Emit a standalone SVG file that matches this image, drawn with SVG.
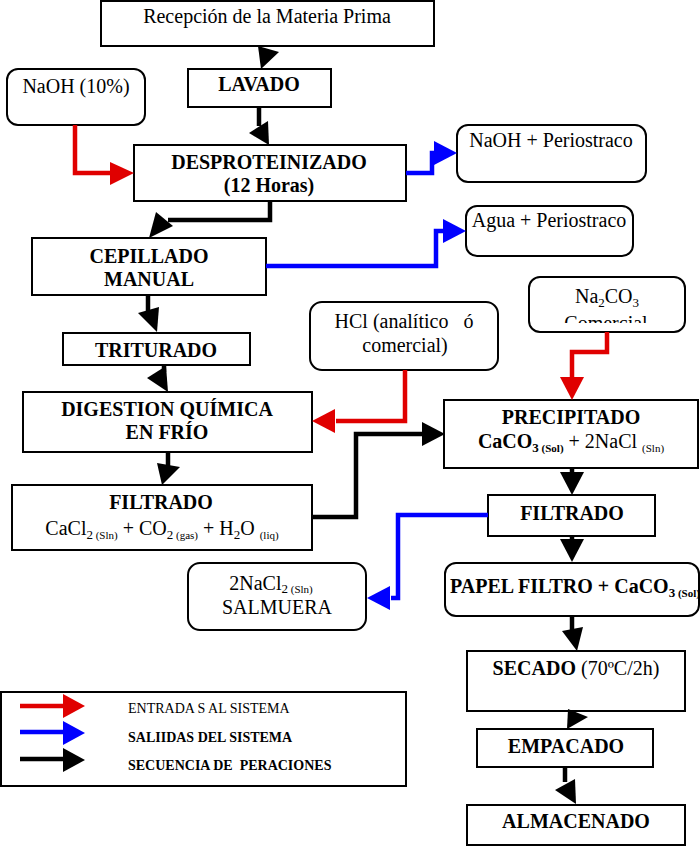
<svg xmlns="http://www.w3.org/2000/svg" width="700" height="847" viewBox="0 0 700 847">
<style>
.box{fill:#fff;stroke:#000;stroke-width:2}
.t{font-family:"Liberation Serif","Times New Roman",serif;font-size:20px;fill:#000;text-anchor:middle}
.b{font-weight:bold;font-size:20px}
.st{text-anchor:start}
.sb{font-size:13px}
.sm{font-size:11px}
.lg{font-family:"Liberation Serif","Times New Roman",serif;font-size:14px;fill:#000}
.k{fill:none;stroke:#000;stroke-width:4.5}
.kr{fill:none;stroke:#e00000;stroke-width:4.5}
.kb{fill:none;stroke:#0000ff;stroke-width:4.5}
</style>
<defs>
<clipPath id="clipNa"><rect x="529" y="277" width="157" height="46"/></clipPath>
</defs>

<g id="recepcion"><rect class="box" x="101" y="1" width="333" height="45"/>
<text class="t" x="267" y="23">Recepción de la Materia Prima</text></g>

<g id="lavado"><rect class="box" x="188" y="69" width="143" height="38"/>
<text class="t b" x="259" y="91">LAVADO</text></g>

<g id="naoh10"><rect class="box" x="7" y="69" width="138" height="56" rx="11"/>
<text class="t" x="76" y="93">NaOH (10%)</text></g>

<g id="desproteinizado"><rect class="box" x="134" y="145" width="272" height="56"/>
<text class="t b" x="269" y="169">DESPROTEINIZADO</text>
<text class="t b" x="269" y="192">(12 Horas)</text></g>

<g id="naohperiostraco"><rect class="box" x="457" y="125" width="189" height="57" rx="11"/>
<text class="t" x="551" y="147">NaOH + Periostraco</text></g>

<g id="aguaperiostraco"><rect class="box" x="466" y="206" width="167" height="50" rx="11"/>
<text class="t" x="549" y="227">Agua + Periostraco</text></g>

<g id="cepillado"><rect class="box" x="32" y="238" width="234" height="57"/>
<text class="t b" x="149" y="263">CEPILLADO</text>
<text class="t b" x="149" y="286">MANUAL</text></g>

<g id="triturado"><rect class="box" x="63" y="333" width="187" height="32"/>
<text class="t b" x="156" y="357">TRITURADO</text></g>

<g id="hcl"><rect class="box" x="310" y="302" width="188" height="68" rx="12"/>
<text class="t" x="404" y="328" xml:space="preserve">HCl (analítico   ó</text>
<text class="t" x="405" y="352">comercial)</text></g>

<g id="na2co3"><rect class="box" x="529" y="277" width="156" height="55" rx="11"/>
<text class="t" x="607" y="303">Na<tspan class="sb" dy="4">2</tspan><tspan dy="-4">CO</tspan><tspan class="sb" dy="4">3</tspan></text>
<text class="t" x="606" y="330" clip-path="url(#clipNa)">Comercial</text></g>

<g id="digestion"><rect class="box" x="23" y="392" width="289" height="60"/>
<text class="t b" x="167" y="416">DIGESTION QUÍMICA</text>
<text class="t b" x="167" y="439">EN FRÍO</text></g>

<g id="precipitado"><rect class="box" x="444" y="400" width="254" height="68"/>
<text class="t b" x="571" y="424">PRECIPITADO</text>
<text class="t" x="571" y="448"><tspan font-weight="bold">CaCO</tspan><tspan class="sb" font-weight="bold" dy="4">3</tspan><tspan class="sm" font-weight="bold"> (Sol)</tspan><tspan dy="-4"> + 2NaCl </tspan><tspan class="sm" dy="4">(Sln)</tspan></text></g>

<g id="filtrado1"><rect class="box" x="12" y="485" width="300" height="65"/>
<text class="t b" x="161" y="509">FILTRADO</text>
<text class="t" x="162" y="535">CaCl<tspan class="sb" dy="4">2</tspan><tspan class="sm"> (Sln)</tspan><tspan dy="-4"> + CO</tspan><tspan class="sb" dy="4">2</tspan><tspan class="sm"> (gas)</tspan><tspan dy="-4"> + H</tspan><tspan class="sb" dy="4">2</tspan><tspan dy="-4">O </tspan><tspan class="sm" dy="4">(liq)</tspan></text></g>

<g id="filtrado2"><rect class="box" x="488" y="495" width="167" height="41"/>
<text class="t b" x="572" y="520">FILTRADO</text></g>

<g id="salmuera"><rect class="box" x="188" y="563" width="178" height="67" rx="12"/>
<text class="t" x="271" y="590">2NaCl<tspan class="sb" dy="3">2</tspan><tspan class="sm"> (Sln)</tspan></text>
<text class="t" x="277" y="614">SALMUERA</text></g>

<g id="papelfiltro"><rect class="box" x="445" y="563" width="254" height="53" rx="11"/>
<text class="t b st" x="450" y="593">PAPEL FILTRO + CaCO<tspan class="sb" dy="4">3</tspan><tspan class="sm"> (Sol)</tspan></text></g>

<g id="secado"><rect class="box" x="467" y="651" width="218" height="60"/>
<text class="t" x="576" y="675"><tspan font-weight="bold">SECADO</tspan> (70ºC/2h)</text></g>

<g id="empacado"><rect class="box" x="477" y="729" width="176" height="38"/>
<text class="t b" x="566" y="753">EMPACADO</text></g>

<g id="almacenado"><rect class="box" x="467" y="805" width="218" height="40"/>
<text class="t b" x="576" y="828">ALMACENADO</text></g>

<g id="connectors">
<polygon points="258,46 279,52 261,69" fill="#000"/>
<path class="k" d="M259,107 V126"/>
<polygon points="249,133 268,121 269,145" fill="#000"/>
<path class="k" d="M270,201 V220 H168"/>
<polygon points="156,212 173,226 149,238" fill="#000"/>
<path class="k" d="M148,295 V311"/>
<polygon points="138,313 159,307 157,332" fill="#000"/>
<path class="k" d="M164,365 V372"/>
<polygon points="147,378 166,366 168,392" fill="#000"/>
<path class="k" d="M168,452 V466"/>
<polygon points="157,463 180,467 162,485" fill="#000"/>
<path class="k" d="M312,517 H356 V434 H424"/>
<polygon points="422,422 445,434 422,446" fill="#000"/>
<path class="k" d="M572,468 V474"/>
<polygon points="560,472 584,472 572,495" fill="#000"/>
<path class="k" d="M572,536 V540"/>
<polygon points="560,539 584,539 572,562" fill="#000"/>
<path class="k" d="M572,616 V632"/>
<polygon points="562,631 583,627 577,651" fill="#000"/>
<polygon points="568,709 588,717 567,729" fill="#000"/>
<path class="k" d="M565,767 V782"/>
<polygon points="555,790 575,779 576,804" fill="#000"/>
<path class="kr" d="M75,125 V173 H112"/>
<polygon points="110,162 134,173 110,185" fill="#e00000"/>
<path class="kr" d="M405,370 V421 H336"/>
<polygon points="335,409 312,421 335,433" fill="#e00000"/>
<path class="kr" d="M607,332 V352 H572 V378"/>
<polygon points="560,377 584,377 572,400" fill="#e00000"/>
<path class="kb" d="M406,173 H432 V153 H436"/>
<polygon points="434,141 457,153 434,165" fill="#0000ff"/>
<path class="kb" d="M266,266 H436 V231 H444"/>
<polygon points="443,219 466,231 443,243" fill="#0000ff"/>
<path class="kb" d="M488,515 H398 V598 H391"/>
<polygon points="390,586 367,598 390,610" fill="#0000ff"/>
</g>

<g id="legend">
<rect x="1" y="692" width="405" height="94" fill="#fff" stroke="#000" stroke-width="2"/>
<path class="kr" d="M20,706 H64"/>
<polygon points="63,694 85,706 63,718" fill="#e00000"/>
<path class="kb" d="M20,732 H64"/>
<polygon points="63,721 85,733 63,745" fill="#0000ff"/>
<path class="k" d="M20,759 H64"/>
<polygon points="63,748 85,760 63,772" fill="#000"/>
<text class="lg" x="128" y="713">ENTRADA S AL SISTEMA</text>
<text class="lg" x="128" y="742" font-weight="bold">SALIIDAS DEL SISTEMA</text>
<text class="lg" x="128" y="770" font-weight="bold" xml:space="preserve">SECUENCIA DE  PERACIONES</text>
</g>
</svg>
